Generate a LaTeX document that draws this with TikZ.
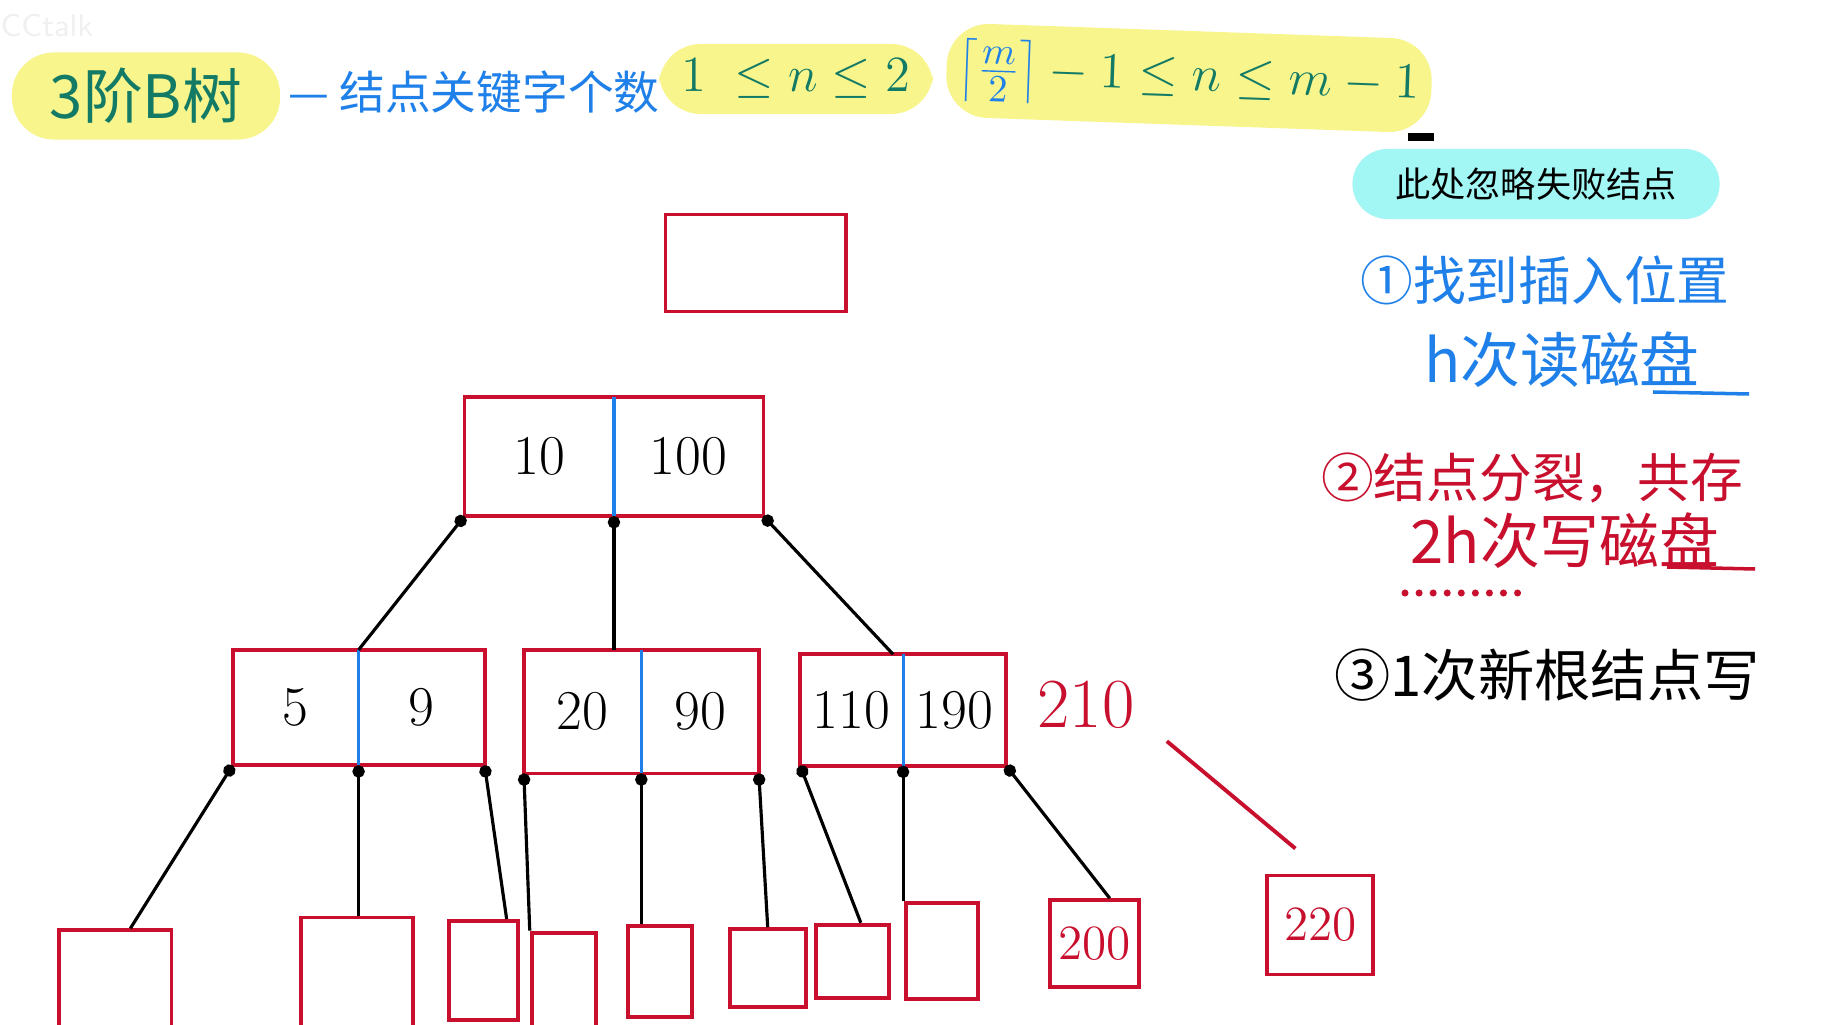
\documentclass[tikz,border=0pt]{standalone}
\usepackage{fontspec}
\newfontfamily\cjk{Noto Sans CJK SC}
\usetikzlibrary{positioning,arrows.meta}
\definecolor{boxred}{HTML}{C8102E}
\definecolor{penblue}{HTML}{1E80E8}
\definecolor{pengreen}{HTML}{137A66}
\definecolor{hlyellow}{HTML}{F7F58C}
\definecolor{hlcyan}{HTML}{A2F6F4}

\begin{document}
\begin{tikzpicture}[x=0.01cm, y=-0.01cm,
  keycell/.style 2 args={minimum width=#1, minimum height=#2, inner sep=0pt, font=\fontsize{16}{16}\selectfont},
  leaf/.style 2 args={draw=boxred, line width=1.1pt, minimum width=#1, minimum height=#2, inner sep=0pt},
  nodeframe/.style={draw=boxred, line width=1.1pt},
  divider/.style={draw=penblue, line width=0.9pt},
  link/.style={line width=0.9pt, {Circle[length=3.5pt]}-},
  hl/.style={fill=hlyellow, rounded corners=0.42cm, inner sep=0pt},
  note/.style={font=\cjk\fontsize{15}{15}\selectfont, inner sep=0pt}]
\useasboundingbox (0,0) rectangle (1828,1025);
\clip (0,0) rectangle (1828,1025);
\fill[white] (0,0) rectangle (1828,1025);
\node[text=gray!12, font=\sffamily\fontsize{9}{9}\selectfont, anchor=west, inner sep=0pt] (mark) at (0,26) {CCtalk};

% title line
\node[hl, minimum width=2.68cm, minimum height=0.87cm, text=pengreen, font=\cjk\fontsize{17}{17}\selectfont] (order) at (146,96) {3阶B树};
\node[text=penblue, font=\cjk\fontsize{13}{13}\selectfont, inner sep=0pt] (count) at (474,92) {— 结点关键字个数};
\node[hl, minimum width=2.74cm, minimum height=0.70cm, text=pengreen, font=\fontsize{15}{15}\selectfont] (range) at (796,79) {$1\;\le n\le 2$};
\node[hl, rotate=-2, minimum width=4.85cm, minimum height=0.94cm, text=pengreen, font=\fontsize{15}{15}\selectfont] (general) at (1189,78) {$\color{penblue}\left\lceil\frac{m}{2}\right\rceil\color{pengreen}-1\le n\le m-1$};
\draw[line width=2pt] (1408,137) -- (1434,137);

% notes on the right
\node[fill=hlcyan, rounded corners=0.35cm, minimum width=3.67cm, minimum height=0.70cm, inner sep=0pt, font=\cjk\fontsize{10}{10}\selectfont] (ignore) at (1536,184) {此处忽略失败结点};
\node[note, text=penblue] (find) at (1545,280) {①找到插入位置};
\node[note, text=penblue, font=\cjk\fontsize{17}{17}\selectfont] (read) at (1562,360) {h次读磁盘};
\draw[penblue, line width=1pt] (1653,392) -- (1749,394);
\node[note, text=boxred] (split) at (1532,478) {②结点分裂，共存};
\node[note, text=boxred, font=\cjk\fontsize{17}{17}\selectfont] (write) at (1565,541) {2h次写磁盘};
\draw[boxred, line width=1pt] (1667,567) -- (1755,569);
\draw[boxred, line width=2pt, line cap=round, dash pattern=on 0pt off 4pt] (1405,593) -- (1518,593);
\node[note, font=\cjk\fontsize{16}{16}\selectfont] (newroot) at (1547,675) {③1次新根结点写};

% new (empty) root
\node[leaf={1.80cm}{0.97cm}] (top) at (755.5,263) {};

% root node
\node[keycell={1.48cm}{1.18cm}] (r1) at (539.2,456.4) {10};
\node[keycell={1.48cm}{1.18cm}, right=0pt of r1] (r2) {100};
\draw[nodeframe] (r1.north west) rectangle (r2.south east);
\draw[divider] (r1.north east) -- (r1.south east);

% second level
\node[keycell={1.245cm}{1.14cm}] (c1a) at (295.6,707.6) {5};
\node[keycell={1.245cm}{1.14cm}, right=0pt of c1a] (c1b) {9};
\draw[nodeframe] (c1a.north west) rectangle (c1b.south east);
\draw[divider] (c1a.north east) -- (c1a.south east);
\node[keycell={1.16cm}{1.22cm}] (c2a) at (582.6,711.7) {20};
\node[keycell={1.16cm}{1.22cm}, right=0pt of c2a] (c2b) {90};
\draw[nodeframe] (c2a.north west) rectangle (c2b.south east);
\draw[divider] (c2a.north east) -- (c2a.south east);
\node[keycell={1.015cm}{1.10cm}] (c3a) at (851.6,710) {110};
\node[keycell={1.015cm}{1.10cm}, right=0pt of c3a] (c3b) {190};
\draw[nodeframe] (c3a.north west) rectangle (c3b.south east);
\draw[divider] (c3a.north east) -- (c3a.south east);
\node[text=boxred, font=\fontsize{20}{20}\selectfont] (t210) at (1086,705) {210};

% leaves
\node[leaf={1.12cm}{1.10cm}] (l1) at (115.4,985.3) {};
\node[leaf={1.12cm}{1.20cm}] (l2) at (356.7,977.5) {};
\node[leaf={0.69cm}{0.99cm}] (l3) at (483.2,970.5) {};
\node[leaf={0.64cm}{1.00cm}] (l4) at (563.7,982.6) {};
\node[leaf={0.64cm}{0.91cm}] (l5) at (660.4,971.1) {};
\node[leaf={0.76cm}{0.78cm}] (l6) at (767.7,968.2) {};
\node[leaf={0.73cm}{0.73cm}] (l7) at (852.8,961.2) {};
\node[leaf={0.72cm}{0.96cm}] (l8) at (942,951.3) {};
\node[leaf={0.89cm}{0.87cm}, text=boxred, font=\fontsize{14}{14}\selectfont] (l9) at (1094.7,943.7) {200};
\node[leaf={1.06cm}{0.99cm}, text=boxred, font=\fontsize{14}{14}\selectfont] (l10) at (1320.3,925) {220};

% pointers
\draw[link] (r1.south west) -- (c1a.north east);
\draw[link] (r1.south east) -- (r1.south east |- c2a.north);
\draw[link] (r2.south east) -- ([xshift=-0.1cm]c3a.north east);
\draw[link] (c1a.south west) -- ([xshift=0.15cm]l1.north);
\draw[link] (c1a.south east) -- (c1a.south east |- l2.north);
\draw[link] (c1b.south east) -- ([xshift=-0.13cm]l3.north east);
\draw[link] (c2a.south west) -- (l4.north west);
\draw[link] (c2a.south east) -- (c2a.south east |- l5.north);
\draw[link] (c2b.south east) -- (l6.north);
\draw[link] (c3a.south west) -- ([xshift=0.08cm]l7.north);
\draw[link] (c3a.south east) -- (c3a.south east |- l8.north);
\draw[link] (c3b.south east) -- ([xshift=0.15cm]l9.north);
\draw[boxred, line width=1.1pt] ([xshift=0.2cm]t210.south east) -- ([shift={(0.3cm,0.25cm)}]l10.north west);
\end{tikzpicture}
\end{document}
